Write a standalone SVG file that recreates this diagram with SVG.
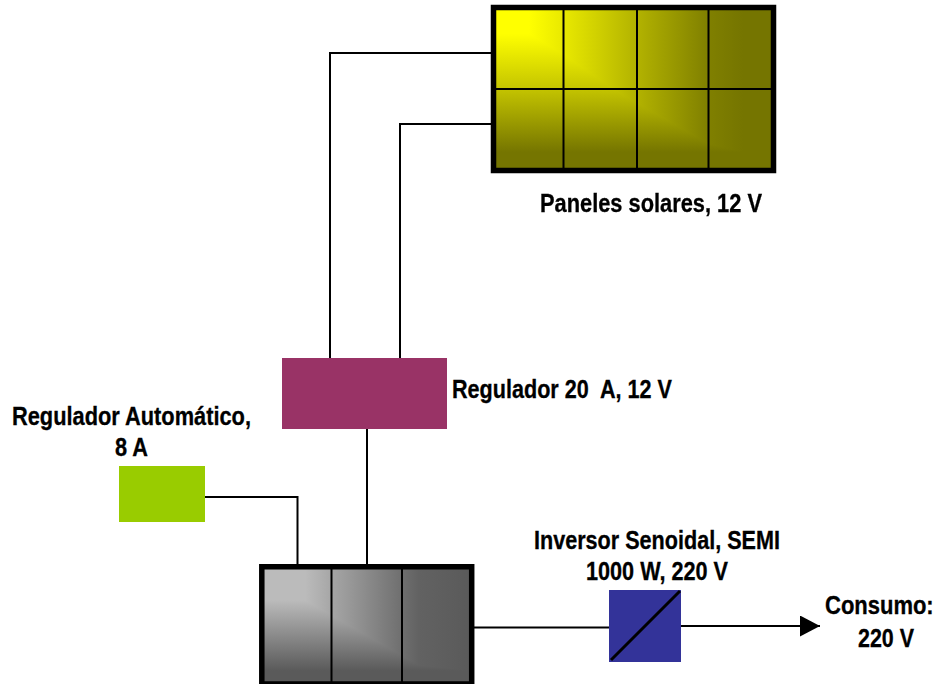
<svg xmlns="http://www.w3.org/2000/svg" width="941" height="684" viewBox="0 0 941 684">
<style>
text{font-family:"Liberation Sans",Arial,sans-serif;font-weight:700;font-size:25px;fill:#000;stroke:#000;stroke-width:.3}
.wire{fill:none;stroke:#000;stroke-width:2}
.grid{fill:none;stroke:#000;stroke-width:2}
.frame{fill:none;stroke:#000;stroke-width:5.5}
.dk{mix-blend-mode:darken}
</style>
<defs>
<linearGradient id="ph" gradientUnits="userSpaceOnUse" x1="496" y1="0" x2="771" y2="0"><stop offset="0.12" stop-color="#ffff00"/><stop offset="0.25" stop-color="#e8e800"/><stop offset="0.5" stop-color="#b5b500"/><stop offset="0.77" stop-color="#808000"/><stop offset="0.9" stop-color="#757500"/></linearGradient>
<linearGradient id="pv" gradientUnits="userSpaceOnUse" x1="0" y1="10" x2="0" y2="168"><stop offset="0.15" stop-color="#ffff00"/><stop offset="0.5" stop-color="#c4c400"/><stop offset="0.9" stop-color="#757500"/></linearGradient>
<linearGradient id="bh" gradientUnits="userSpaceOnUse" x1="264" y1="0" x2="470" y2="0"><stop offset="0.2" stop-color="#bbbbbb"/><stop offset="0.75" stop-color="#626262"/><stop offset="1" stop-color="#5a5a5a"/></linearGradient>
<linearGradient id="bv" gradientUnits="userSpaceOnUse" x1="0" y1="570" x2="0" y2="682"><stop offset="0.27" stop-color="#bbbbbb"/><stop offset="0.9" stop-color="#5a5a5a"/></linearGradient>
<marker id="arrow" markerUnits="userSpaceOnUse" markerWidth="21" markerHeight="21" refX="20" refY="10.5" orient="auto"><path d="M0 0L20 10.500L0 21Z" fill="#000"/></marker>
</defs>
<g id="connectors">
<path class="wire" d="M491 53H330V358"/>
<path class="wire" d="M491 124H400V358"/>
<path class="wire" d="M367 429V566"/>
<path class="wire" d="M205 497H297.500V565"/>
<path class="wire" d="M474 627.500H610"/>
<path class="wire" d="M681 626H820" marker-end="url(#arrow)"/>
</g>
<g id="paneles" style="isolation:isolate">
<rect x="493" y="7" width="280" height="164" fill="url(#ph)"/>
<rect class="dk" x="493" y="7" width="280" height="164" fill="url(#pv)"/>
<path class="grid" d="M563.500 8V170M637 8V170M708.500 8V170M494 89H772"/>
<rect class="frame" x="493.500" y="7.500" width="280" height="163"/>
<text x="540" y="212" textLength="222" lengthAdjust="spacingAndGlyphs">Paneles solares, 12 V</text>
</g>
<g id="regulador">
<rect x="282" y="358" width="165" height="71" fill="#993366"/>
<text x="452" y="398" textLength="220" lengthAdjust="spacingAndGlyphs" xml:space="preserve">Regulador 20  A, 12 V</text>
</g>
<g id="regulador-automatico">
<rect x="119" y="466" width="86" height="56" fill="#99cc00"/>
<text x="12" y="425" textLength="239" lengthAdjust="spacingAndGlyphs">Regulador Automático,</text>
<text x="115" y="456" textLength="33" lengthAdjust="spacingAndGlyphs">8 A</text>
</g>
<g id="baterias" style="isolation:isolate">
<rect x="262" y="567" width="210" height="117" fill="url(#bh)"/>
<rect class="dk" x="262" y="567" width="210" height="117" fill="url(#bv)"/>
<path class="grid" d="M331.500 568V683M402 568V683"/>
<path class="frame" d="M261.800 684V566.800H471.700V684H261.800"/>
</g>
<g id="inversor">
<rect x="609" y="590" width="72" height="72" fill="#333399"/>
<path d="M611 660L680 591" fill="none" stroke="#000" stroke-width="3"/>
<text x="534" y="549" textLength="246" lengthAdjust="spacingAndGlyphs">Inversor Senoidal, SEMI</text>
<text x="586" y="580" textLength="142" lengthAdjust="spacingAndGlyphs">1000 W, 220 V</text>
</g>
<g id="consumo">
<text transform="translate(825 614) scale(.88 1)">Consumo:</text>
<text x="858" y="647" textLength="56" lengthAdjust="spacingAndGlyphs">220 V</text>
</g>
</svg>
